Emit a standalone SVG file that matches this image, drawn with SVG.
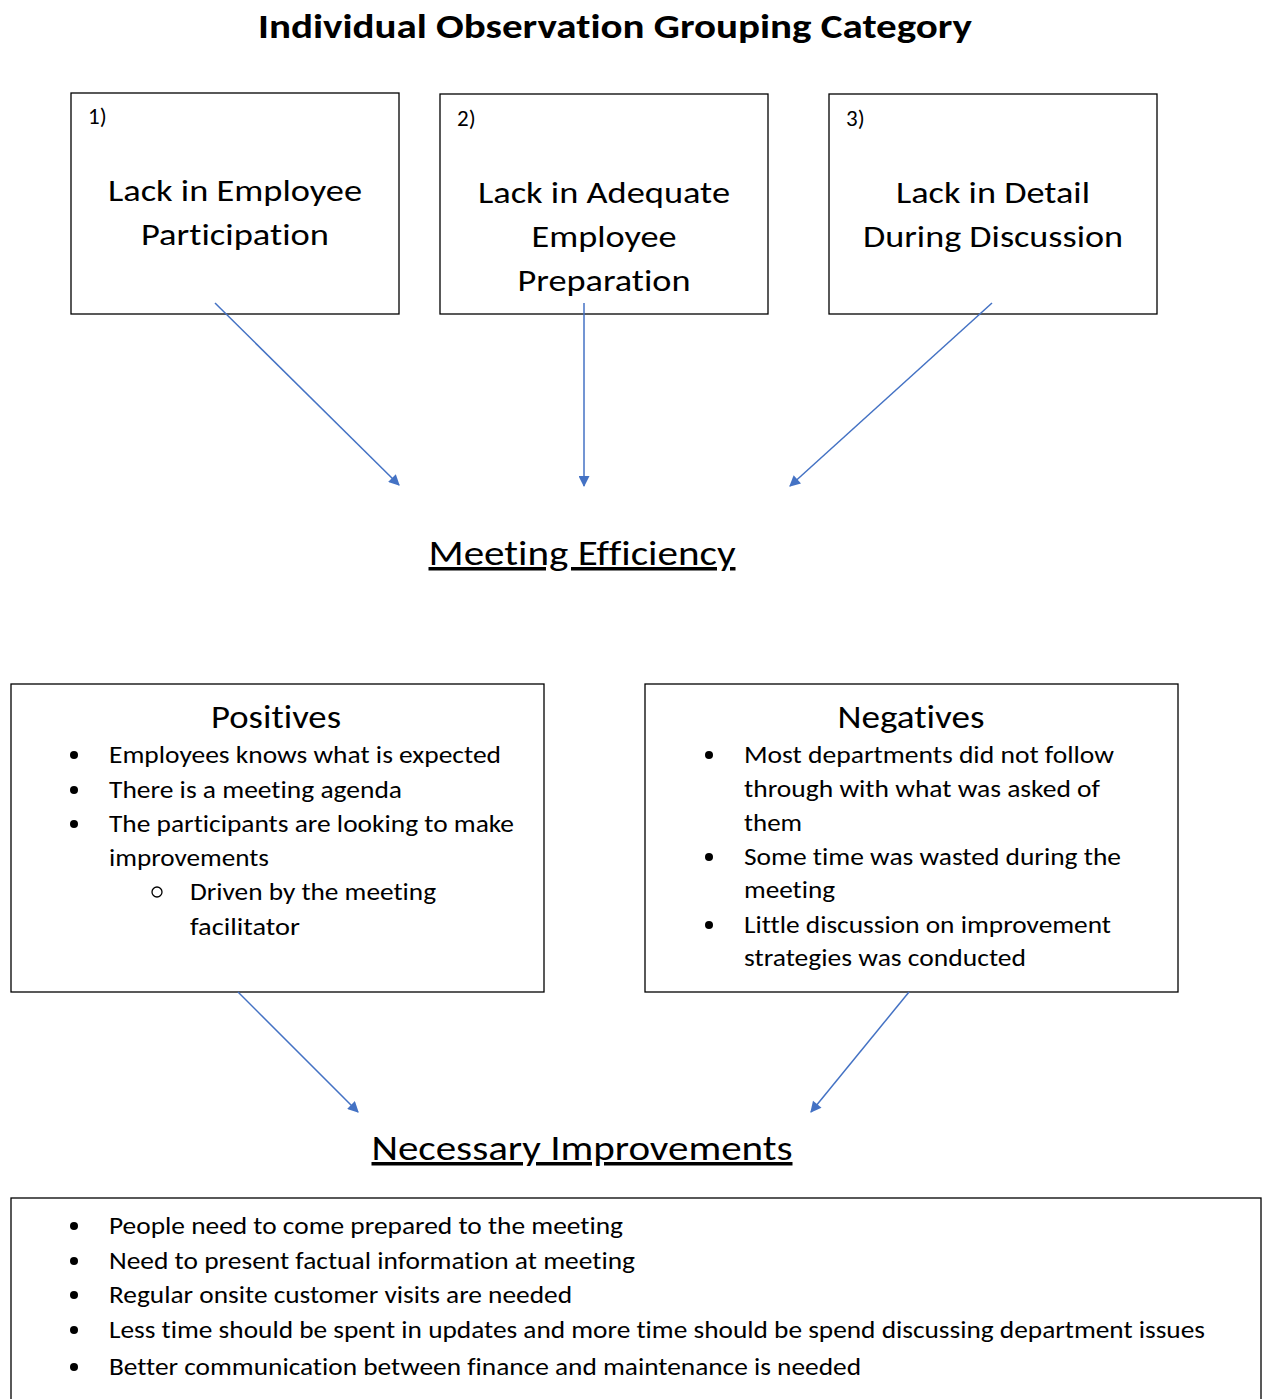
<svg xmlns="http://www.w3.org/2000/svg" width="1264" height="1399" viewBox="0 0 1264 1399">
<style>
text{font-family:Carlito,Lato,"Open Sans",sans-serif;fill:#000;font-variant-ligatures:none}
.title{font-size:35px;font-weight:bold}
.box{fill:#fff;stroke:#000;stroke-width:1.3}
.bt{font-size:31px;text-anchor:middle}
.num{font-size:23px}
.head{font-size:35px;text-anchor:middle;text-decoration:underline}
.h2{font-size:32px;text-anchor:middle}
.li{font-size:24.5px}
.conn{stroke:#4472C4;stroke-width:1.5;fill:none;marker-end:url(#ah)}
</style>
<defs>
<marker id="ah" viewBox="0 0 10 10" refX="9" refY="5" markerWidth="14" markerHeight="11" markerUnits="userSpaceOnUse" orient="auto">
<path d="M0,0 L10,5 L0,10 z" fill="#4472C4"/>
</marker>
</defs>
<rect width="1264" height="1399" fill="#fff"/>
<text class="title" x="615" y="38" text-anchor="middle" textLength="714" lengthAdjust="spacingAndGlyphs">Individual Observation Grouping Category</text>

<g id="box1">
<rect class="box" x="71" y="93" width="328" height="221"/>
<text class="num" x="88" y="124">1)</text>
<text class="bt" x="235" y="201" textLength="254" lengthAdjust="spacingAndGlyphs">Lack in Employee</text>
<text class="bt" x="235" y="245" textLength="188" lengthAdjust="spacingAndGlyphs">Participation</text>
</g>
<g id="box2">
<rect class="box" x="440" y="94" width="328" height="220"/>
<text class="num" x="457" y="126">2)</text>
<text class="bt" x="604" y="203" textLength="252" lengthAdjust="spacingAndGlyphs">Lack in Adequate</text>
<text class="bt" x="604" y="247" textLength="145" lengthAdjust="spacingAndGlyphs">Employee</text>
<text class="bt" x="604" y="291" textLength="173" lengthAdjust="spacingAndGlyphs">Preparation</text>
</g>
<g id="box3">
<rect class="box" x="829" y="94" width="328" height="220"/>
<text class="num" x="846" y="126">3)</text>
<text class="bt" x="993" y="203" textLength="194" lengthAdjust="spacingAndGlyphs">Lack in Detail</text>
<text class="bt" x="993" y="247" textLength="260" lengthAdjust="spacingAndGlyphs">During Discussion</text>
</g>

<g id="meeting-efficiency">
<text class="head" x="582" y="565" textLength="307" lengthAdjust="spacingAndGlyphs">Meeting Efficiency</text>
</g>

<g id="positives">
<rect class="box" x="11" y="684" width="533" height="308"/>
<text class="h2" x="276" y="728" textLength="130" lengthAdjust="spacingAndGlyphs">Positives</text>
<circle cx="74" cy="755" r="4"/>
<circle cx="74" cy="790" r="4"/>
<circle cx="74" cy="824" r="4"/>
<circle cx="157" cy="892" r="5" fill="none" stroke="#000" stroke-width="1.3"/>
<text class="li" x="109" y="763" textLength="392" lengthAdjust="spacingAndGlyphs">Employees knows what is expected</text>
<text class="li" x="109" y="798" textLength="293" lengthAdjust="spacingAndGlyphs">There is a meeting agenda</text>
<text class="li" x="109" y="832" textLength="405" lengthAdjust="spacingAndGlyphs">The participants are looking to make</text>
<text class="li" x="109" y="866" textLength="160" lengthAdjust="spacingAndGlyphs">improvements</text>
<text class="li" x="190" y="900" textLength="246" lengthAdjust="spacingAndGlyphs">Driven by the meeting</text>
<text class="li" x="190" y="935" textLength="110" lengthAdjust="spacingAndGlyphs">facilitator</text>
</g>

<g id="negatives">
<rect class="box" x="645" y="684" width="533" height="308"/>
<text class="h2" x="911" y="728" textLength="147" lengthAdjust="spacingAndGlyphs">Negatives</text>
<circle cx="709" cy="755" r="4"/>
<circle cx="709" cy="857" r="4"/>
<circle cx="709" cy="925" r="4"/>
<text class="li" x="744" y="763" textLength="370" lengthAdjust="spacingAndGlyphs">Most departments did not follow</text>
<text class="li" x="744" y="797" textLength="356" lengthAdjust="spacingAndGlyphs">through with what was asked of</text>
<text class="li" x="744" y="831" textLength="58" lengthAdjust="spacingAndGlyphs">them</text>
<text class="li" x="744" y="865" textLength="377" lengthAdjust="spacingAndGlyphs">Some time was wasted during the</text>
<text class="li" x="744" y="898" textLength="91" lengthAdjust="spacingAndGlyphs">meeting</text>
<text class="li" x="744" y="933" textLength="367" lengthAdjust="spacingAndGlyphs">Little discussion on improvement</text>
<text class="li" x="744" y="966" textLength="282" lengthAdjust="spacingAndGlyphs">strategies was conducted</text>
</g>

<g id="necessary-improvements">
<text class="head" x="582" y="1160" textLength="421" lengthAdjust="spacingAndGlyphs">Necessary Improvements</text>
</g>

<g id="improvements-list">
<rect class="box" x="11" y="1198" width="1250" height="215"/>
<circle cx="74" cy="1226" r="4"/>
<circle cx="74" cy="1261" r="4"/>
<circle cx="74" cy="1295" r="4"/>
<circle cx="74" cy="1330" r="4"/>
<circle cx="74" cy="1367" r="4"/>
<text class="li" x="109" y="1234" textLength="514" lengthAdjust="spacingAndGlyphs">People need to come prepared to the meeting</text>
<text class="li" x="109" y="1269" textLength="526" lengthAdjust="spacingAndGlyphs">Need to present factual information at meeting</text>
<text class="li" x="109" y="1303" textLength="463" lengthAdjust="spacingAndGlyphs">Regular onsite customer visits are needed</text>
<text class="li" x="109" y="1338" textLength="1096" lengthAdjust="spacingAndGlyphs">Less time should be spent in updates and more time should be spend discussing department issues</text>
<text class="li" x="109" y="1375" textLength="752" lengthAdjust="spacingAndGlyphs">Better communication between finance and maintenance is needed</text>
</g>

<g id="connectors">
<line class="conn" x1="215" y1="303" x2="399" y2="485"/>
<line class="conn" x1="584" y1="303" x2="584" y2="486"/>
<line class="conn" x1="992" y1="303" x2="790" y2="486"/>
<line class="conn" x1="238" y1="992" x2="358" y2="1112"/>
<line class="conn" x1="909" y1="992" x2="811" y2="1112"/>
</g>
</svg>
